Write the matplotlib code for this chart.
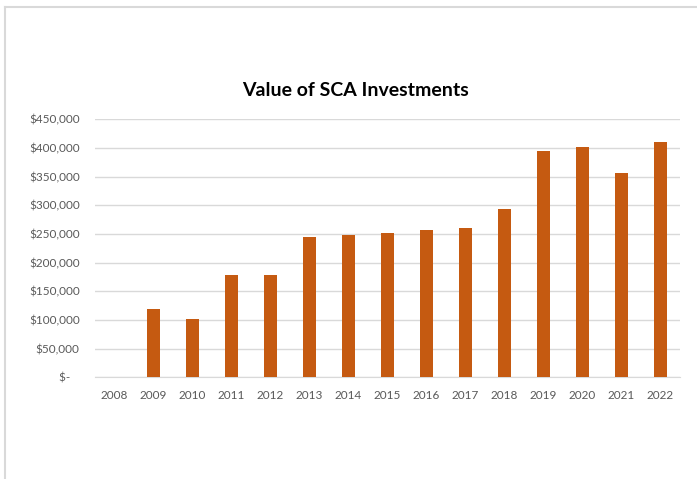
import matplotlib
matplotlib.use("Agg")
import matplotlib.pyplot as plt
from matplotlib.lines import Line2D

years = ["2008", "2009", "2010", "2011", "2012", "2013", "2014", "2015",
         "2016", "2017", "2018", "2019", "2020", "2021", "2022"]
values = [0, 119000, 101700, 177900, 178400, 245300, 248200, 252300,
          256900, 261000, 293600, 394800, 401200, 356400, 410500]
ytick_vals = [0, 50000, 100000, 150000, 200000, 250000, 300000, 350000, 400000, 450000]
ytick_labels = ["$-   ", "$50,000", "$100,000", "$150,000", "$200,000", "$250,000",
                "$300,000", "$350,000", "$400,000", "$450,000"]
title = "Value of SCA Investments"

W, H = 697, 479
fig = plt.figure(figsize=(W / 100, H / 100), dpi=100)
fig.patch.set_facecolor("white")

# chart border (partially visible)
fig.add_artist(Line2D([5 / W, 5 / W], [0, 1 - 7 / H], transform=fig.transFigure,
                      color="#d9d9d9", lw=1.5))
fig.add_artist(Line2D([5 / W, 1], [1 - 7 / H, 1 - 7 / H], transform=fig.transFigure,
                      color="#d9d9d9", lw=1.5))

left, right, top, bottom = 95, 680, 119.3, 377.3
ax = fig.add_axes([left / W, 1 - bottom / H, (right - left) / W, (bottom - top) / H])

font = ["Lato", "DejaVu Sans"]
x = list(range(len(years)))
ax.bar(x, values, width=0.32, color="#C55A11", zorder=3)
ax.set_xlim(-0.5, len(years) - 0.5)
ax.set_ylim(0, 450000)
ax.set_yticks(ytick_vals)
ax.set_yticklabels(ytick_labels, family=font, fontsize=8.5, color="#595959")
ax.set_xticks(x)
ax.set_xticklabels(years, family=font, fontsize=8.5, color="#595959")
ax.tick_params(axis="both", length=0)
ax.tick_params(axis="y", pad=11)
ax.tick_params(axis="x", pad=9)
ax.grid(axis="y", color="#d9d9d9", lw=1, zorder=0)
for s in ["top", "right", "left"]:
    ax.spines[s].set_visible(False)
ax.spines["bottom"].set_color("#d9d9d9")

fig.text(355 / W, 1 - 90 / H, title, ha="center", va="center",
         family=["Lato", "DejaVu Sans"], fontweight="bold", fontsize=14, color="black")

fig.savefig("out.png", dpi=100)
